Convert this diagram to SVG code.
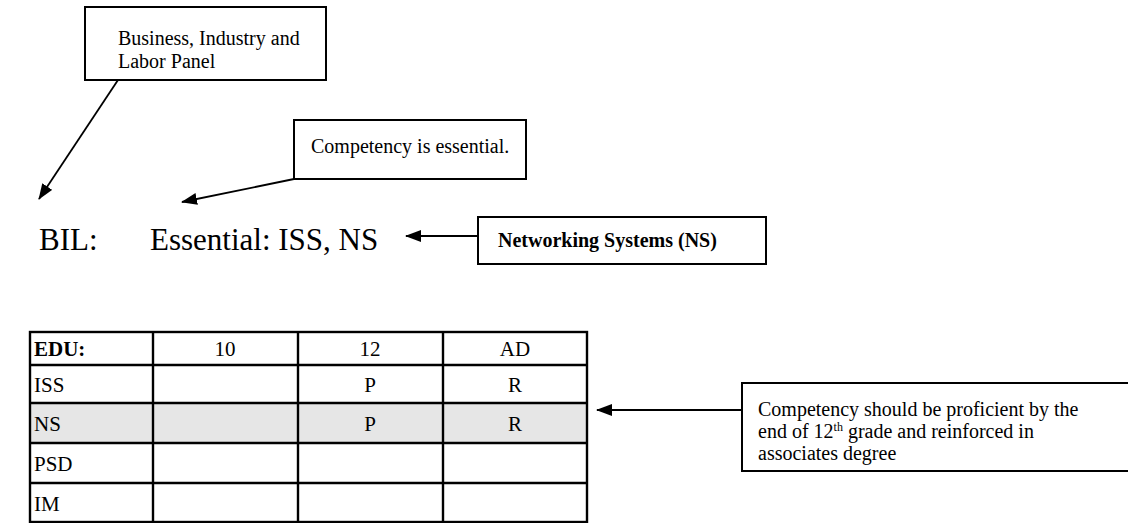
<svg xmlns="http://www.w3.org/2000/svg" width="1128" height="523" viewBox="0 0 1128 523">
  <style>
    .box { fill: #fff; stroke: #000; stroke-width: 2; }
    .t { font-family: "Liberation Serif", "Times New Roman", serif; fill: #000; }
    .small { font-size: 20px; }
    .big { font-size: 31px; }
    .bold { font-weight: bold; }
    .conn { stroke: #000; stroke-width: 1.8; fill: none; marker-end: url(#head); }
    .grid { stroke: #000; stroke-width: 2.4; fill: none; }
    .cell { font-size: 21px; }
  </style>
  <defs>
    <marker id="head" viewBox="0 0 16 12" refX="15" refY="6" markerWidth="16" markerHeight="12" markerUnits="userSpaceOnUse" orient="auto">
      <path d="M0,0 L16,6 L0,12 Z" fill="#000"/>
    </marker>
  </defs>
  <rect width="1128" height="523" fill="#fff"/>

  <g id="panel-box">
    <rect class="box" x="85" y="7" width="241" height="73"/>
    <text class="t small" x="118" y="45">Business, Industry and</text>
    <text class="t small" x="118" y="68">Labor Panel</text>
  </g>

  <g id="essential-box">
    <rect class="box" x="294" y="120" width="232" height="59"/>
    <text class="t small" x="311" y="153">Competency is essential.</text>
  </g>

  <g id="bil-line">
    <text class="t big" x="39" y="250">BIL:</text>
    <text class="t big" x="150" y="250">Essential: ISS, NS</text>
  </g>

  <g id="ns-box">
    <rect class="box" x="478" y="217" width="288" height="47"/>
    <text class="t small bold" x="498" y="247">Networking Systems (NS)</text>
  </g>

  <g id="proficient-box">
    <rect class="box" x="742" y="383" width="400" height="88"/>
    <text class="t small" x="758" y="416">Competency should be proficient by the</text>
    <text class="t small" x="758" y="438">end of 12<tspan font-size="12" dy="-7">th</tspan><tspan dy="7"> grade and reinforced in</tspan></text>
    <text class="t small" x="758" y="460">associates degree</text>
  </g>

  <g id="edu-table">
    <rect x="30" y="403" width="557" height="40" fill="#e6e6e6"/>
    <rect class="grid" x="30" y="332" width="557" height="190"/>
    <line class="grid" x1="30" y1="365" x2="587" y2="365"/>
    <line class="grid" x1="30" y1="403" x2="587" y2="403"/>
    <line class="grid" x1="30" y1="443" x2="587" y2="443"/>
    <line class="grid" x1="30" y1="483" x2="587" y2="483"/>
    <line class="grid" x1="153" y1="332" x2="153" y2="522"/>
    <line class="grid" x1="298" y1="332" x2="298" y2="522"/>
    <line class="grid" x1="443" y1="332" x2="443" y2="522"/>
    <text class="t cell bold" x="34" y="356">EDU:</text>
    <text class="t cell" x="225" y="356" text-anchor="middle">10</text>
    <text class="t cell" x="370" y="356" text-anchor="middle">12</text>
    <text class="t cell" x="515" y="356" text-anchor="middle">AD</text>
    <text class="t cell" x="34" y="392">ISS</text>
    <text class="t cell" x="370" y="392" text-anchor="middle">P</text>
    <text class="t cell" x="515" y="392" text-anchor="middle">R</text>
    <text class="t cell" x="34" y="431">NS</text>
    <text class="t cell" x="370" y="431" text-anchor="middle">P</text>
    <text class="t cell" x="515" y="431" text-anchor="middle">R</text>
    <text class="t cell" x="34" y="471">PSD</text>
    <text class="t cell" x="34" y="511">IM</text>
  </g>

  <g id="connectors">
    <line class="conn" x1="118" y1="80" x2="39" y2="199"/>
    <line class="conn" x1="294" y1="179" x2="182" y2="202"/>
    <line class="conn" x1="478" y1="236" x2="406" y2="236"/>
    <line class="conn" x1="742" y1="410" x2="597" y2="410"/>
  </g>
</svg>
